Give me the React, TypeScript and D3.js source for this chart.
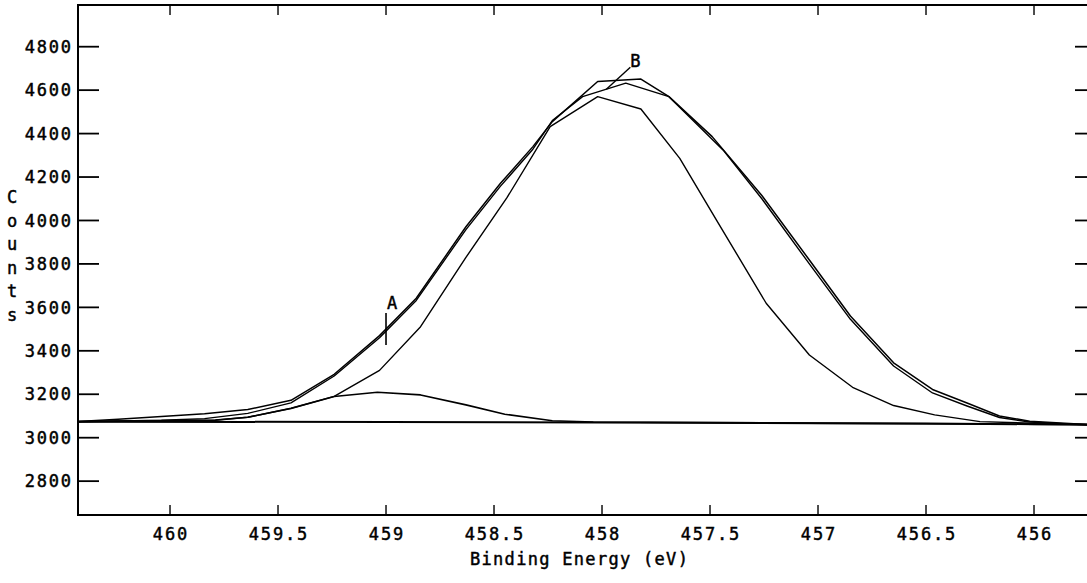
import React from 'react';
import * as d3 from 'd3';

// Axis ticks
const xTicks = [460, 459.5, 459, 458.5, 458, 457.5, 457, 456.5, 456];
const xTickLabels = ['460', '459.5', '459', '458.5', '458', '457.5', '457', '456.5', '456'];
const yTicks = [2800, 3000, 3200, 3400, 3600, 3800, 4000, 4200, 4400, 4600, 4800];
const yTickLabels = ['2800', '3000', '3200', '3400', '3600', '3800', '4000', '4200', '4400', '4600', '4800'];

// Curve T (upper, flat top)
const energyT = [460.43, 460.24, 460.04, 459.84, 459.64, 459.44, 459.24, 459.03, 458.86, 458.63, 458.47, 458.32, 458.23, 458.02, 457.82, 457.69, 457.49, 457.26, 457.04, 456.85, 456.65, 456.47, 456.31, 456.16, 456.02, 455.71];
const countsT = [3074, 3085, 3098, 3110, 3130, 3172, 3292, 3470, 3642, 3971, 4171, 4340, 4455, 4640, 4651, 4570, 4386, 4115, 3818, 3560, 3345, 3222, 3160, 3100, 3076, 3058];

// Curve M (labelled B)
const energyM = [460.43, 460.04, 459.84, 459.64, 459.44, 459.24, 459.03, 458.86, 458.63, 458.47, 458.32, 458.23, 458.09, 457.89, 457.69, 457.44, 457.26, 457.04, 456.85, 456.65, 456.47, 456.31, 456.16, 456.02, 455.71];
const countsM = [3074, 3080, 3088, 3112, 3160, 3284, 3460, 3632, 3958, 4158, 4328, 4460, 4570, 4632, 4570, 4325, 4100, 3800, 3545, 3330, 3206, 3146, 3093, 3072, 3057];

// Curve N (narrower peak)
const energyN = [460.43, 459.79, 459.64, 459.44, 459.24, 459.03, 458.84, 458.63, 458.44, 458.24, 458.02, 457.82, 457.64, 457.47, 457.24, 457.04, 456.84, 456.65, 456.46, 456.25, 455.71];
const countsN = [3074, 3081, 3094, 3135, 3190, 3310, 3511, 3830, 4105, 4432, 4570, 4513, 4286, 4002, 3619, 3381, 3232, 3148, 3105, 3074, 3058];

// Component A
const energyA = [460.43, 459.79, 459.64, 459.44, 459.24, 459.04, 458.84, 458.63, 458.45, 458.23, 458.04, 457.04, 456.04, 455.71];
const countsA = [3074, 3081, 3094, 3135, 3190, 3209, 3197, 3151, 3108, 3078, 3072, 3067, 3062, 3060];

// Background
const energyBase = [460.43, 459.0, 458.0, 457.0, 456.5, 456.0, 455.71];
const countsBase = [3074, 3072, 3070, 3067, 3065, 3062, 3060];

// Annotations
const labelA = { energy: 459.0, counts: 3500, text: 'A' };
const labelB = { energy: 457.98, counts: 4604, text: 'B' };

const W = 1087;
const H = 583;
const LEFT = 78;
const RIGHT = 1096;
const TOP = 5;
const BOTTOM = 515;

const FONT = "'DejaVu Sans Mono', 'Liberation Mono', monospace";
const FS = 17;
const LS = 1.8;
const TS = 0.45; // slight text stroke to mimic plotter pen weight

export default function App() {
  const x = d3.scaleLinear().domain([460.426, 455.713]).range([LEFT, RIGHT]);
  const y = d3.scaleLinear().domain([3000, 4800]).range([437.7, 46.7]);

  const mk = (es: number[], cs: number[]) =>
    d3.line<number>().x((_, i) => x(es[i])).y((c) => y(c))(cs) || '';

  const curves = [
    { e: energyBase, c: countsBase, w: 2.0 },
    { e: energyA, c: countsA, w: 1.6 },
    { e: energyN, c: countsN, w: 1.4 },
    { e: energyM, c: countsM, w: 1.4 },
    { e: energyT, c: countsT, w: 1.5 },
  ];

  const ax = x(labelA.energy);
  const ay = y(labelA.counts);
  const bx = x(labelB.energy);
  const by = y(labelB.counts);

  const counts = ['C', 'o', 'u', 'n', 't', 's'];
  const textProps = { fontFamily: FONT, fontSize: FS, fill: '#000', stroke: '#000', strokeWidth: TS };

  return (
    <svg width={W} height={H} style={{ position: 'absolute', left: 0, top: 0, background: '#fff' }}>
      <defs>
        <clipPath id="plot">
          <rect x={LEFT} y={TOP} width={RIGHT - LEFT} height={BOTTOM - TOP} />
        </clipPath>
      </defs>
      <rect x={0} y={0} width={W} height={H} fill="#fff" />
      {/* frame */}
      <rect x={LEFT} y={TOP} width={RIGHT - LEFT} height={BOTTOM - TOP} fill="none" stroke="#000" strokeWidth={2} />
      {/* x ticks */}
      {xTicks.map((t, i) => (
        <g key={'xt' + i}>
          <line x1={x(t)} x2={x(t)} y1={BOTTOM} y2={BOTTOM - 10} stroke="#000" strokeWidth={1.4} />
          <line x1={x(t)} x2={x(t)} y1={TOP} y2={TOP + 10} stroke="#000" strokeWidth={1.4} />
          <text x={x(t) + LS / 2} y={539.5} textAnchor="middle" letterSpacing={LS} {...textProps}>
            {xTickLabels[i]}
          </text>
        </g>
      ))}
      {/* y ticks */}
      {yTicks.map((t, i) => (
        <g key={'yt' + i}>
          <line x1={LEFT} x2={LEFT + 21} y1={y(t)} y2={y(t)} stroke="#000" strokeWidth={1.8} />
          <line x1={RIGHT} x2={RIGHT - 21} y1={y(t)} y2={y(t)} stroke="#000" strokeWidth={1.8} />
          <text x={71 + LS} y={y(t) + 6.2} textAnchor="end" letterSpacing={LS} {...textProps}>
            {yTickLabels[i]}
          </text>
        </g>
      ))}
      {/* curves */}
      <g clipPath="url(#plot)">
        {curves.map((cv, i) => (
          <path key={'c' + i} d={mk(cv.e, cv.c)} fill="none" stroke="#000" strokeWidth={cv.w} strokeLinejoin="round" />
        ))}
      </g>
      {/* annotation A */}
      <line x1={ax} x2={ax} y1={ay - 16} y2={ay + 16} stroke="#000" strokeWidth={1.6} />
      <text x={ax + 6} y={ay - 20} textAnchor="middle" {...textProps}>
        {labelA.text}
      </text>
      {/* annotation B */}
      <line x1={bx} x2={bx + 24} y1={by} y2={by - 22} stroke="#000" strokeWidth={1.4} />
      <text x={bx + 24} y={by - 22} {...textProps}>
        {labelB.text}
      </text>
      {/* axis titles */}
      <text x={470} y={565} letterSpacing={1.3} style={{ whiteSpace: 'pre' }} {...textProps}>
        {'Binding Energy (eV)'}
      </text>
      {counts.map((ch, i) => (
        <text key={'cl' + i} x={12} y={203 + i * 23.6} textAnchor="middle" {...textProps}>
          {ch}
        </text>
      ))}
    </svg>
  );
}
